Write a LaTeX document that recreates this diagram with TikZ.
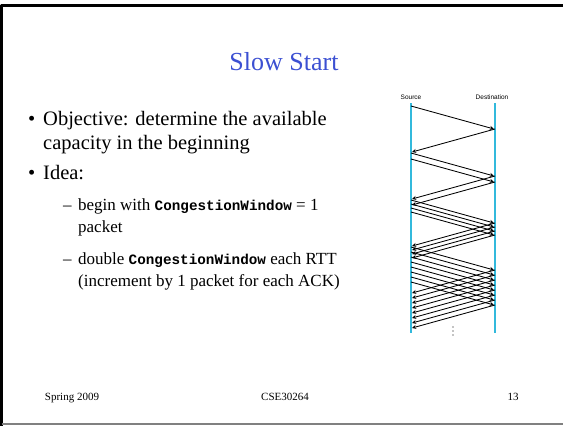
\documentclass[tikz,border=0pt]{standalone}
\usepackage{fontspec}
\setmainfont{Liberation Serif}
\setsansfont{Liberation Sans}
\setmonofont{Liberation Mono}
\definecolor{titleblue}{RGB}{60,80,210}
\definecolor{lifeline}{RGB}{50,185,220}
\newcommand{\cwnd}{{\fontsize{14.3}{17}\selectfont\texttt{\bfseries CongestionWindow}}}

\begin{document}
\begin{tikzpicture}[x=1pt, y=-1pt, line join=round, >=stealth,
	txt/.style={anchor=base west, inner sep=0pt},
	main/.style={txt, font=\fontsize{20.5}{24}\selectfont},
	sub/.style={txt, font=\fontsize{17}{20}\selectfont},
	foot/.style={inner sep=0pt, anchor=base, font=\fontsize{11}{13}\selectfont},
	pkt/.style={->, line width=0.85pt},
	life/.style={lifeline, line width=1.4pt}]
	\useasboundingbox (0,0) rectangle (563,426);
	% frame of the slide
	\draw[line width=3pt] (1.5,426) -- (1.5,5) -- (563,5);
	\draw[gray, line width=1.5pt] (1.5,424) -- (563,424);
	% title
	\node[titleblue, font=\fontsize{26}{30}\selectfont] (title) at (284,62) {Slow Start};
	% bullets
	\node[main] (b1) at (28,125) {•};
	\node[main] (obj1) at (43,125) {Objective: determine the available};
	\node[main] (obj2) at (43,149) {capacity in the beginning};
	\node[main] (b2) at (28,179) {•};
	\node[main] (idea) at (43,179) {Idea:};
	\node[sub] (d1) at (63,210) {–};
	\node[sub] (beg1) at (78,210) {begin with \cwnd{} = 1};
	\node[sub] (beg2) at (78,232) {packet};
	\node[sub] (d2) at (63,264) {–};
	\node[sub] (dbl1) at (78,264) {double \cwnd{} each RTT};
	\node[sub] (dbl2) at (78,286) {(increment by 1 packet for each ACK)};
	% source and destination time lines
	\node[font=\sffamily\fontsize{6.5}{7}\selectfont, anchor=base] (src) at (411,99) {Source};
	\node[font=\sffamily\fontsize{6.5}{7}\selectfont, anchor=base] (dst) at (492,99) {Destination};
	\draw[life] (411,103) -- (411,333);
	\draw[life] (495,103) -- (495,333);
	% packets go right, acks come back
	\foreach \t in {106,153,159,200,204,208,212,247,252,257,262,267,272,277,282}{
		\draw[pkt] (411,\t) -- (494,\t+23);
		\draw[pkt] (495,\t+23) -- (412,\t+46);
	}
	% more rounds follow
	\foreach \y in {327,331,335}
		\fill (453,\y) circle(0.6pt);
	% footer
	\node[foot] (date) at (72,400) {Spring 2009};
	\node[foot] (course) at (285,400) {CSE30264};
	\node[foot] (page) at (513,400) {13};
\end{tikzpicture}
\end{document}
